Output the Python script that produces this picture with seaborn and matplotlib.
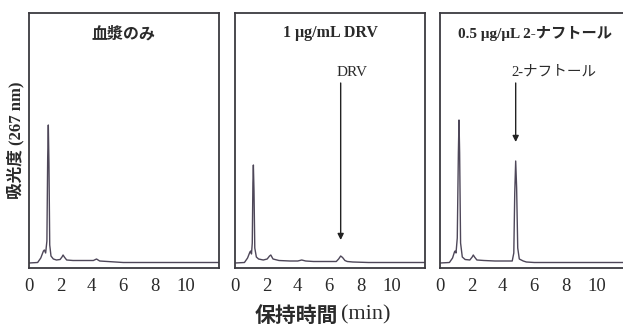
import matplotlib
matplotlib.use("Agg")
import matplotlib.pyplot as plt
import seaborn as sns
import pandas as pd

# ---- data ----
titles = ["血漿のみ", "1 μg/mL DRV", "0.5 μg/μL 2-ナフトール"]
x_ticks = [0, 2, 4, 6, 8, 10]
x_tick_labels = ["0", "2", "4", "6", "8", "10"]

p1_time = [0, 0.55, 0.75, 0.92, 0.98, 1.06, 1.14, 1.19, 1.23, 1.27, 1.32, 1.40, 1.55, 1.75,
           1.98, 2.10, 2.17, 2.25, 2.40, 2.80, 3.50, 4.10, 4.30, 4.50, 5.00, 5.50, 6.00, 12.1]
p1_signal = [0, 0.5, 5, 12, 13, 10, 22, 105, 138, 100, 18, 7, 4, 3,
             3.5, 6, 8, 6, 3, 2.5, 2.5, 2.5, 4, 2, 1.5, 1, 0.5, 0.5]

p2_time = [0, 0.60, 0.80, 0.95, 1.00, 1.05, 1.10, 1.14, 1.17, 1.21, 1.26, 1.36, 1.50, 1.80,
           2.05, 2.20, 2.28, 2.42, 2.80, 3.50, 4.00, 4.25, 4.50, 5.00, 6.00, 6.45, 6.60,
           6.73, 6.85, 7.00, 7.15, 7.50, 8.50, 12.1]
p2_signal = [0, 0.5, 5, 11, 12, 9, 20, 80, 98, 72, 15, 6, 4, 3,
             4, 7, 8, 4, 2.5, 2, 2, 3, 2, 1.5, 1.5, 1.5, 4,
             7, 5.5, 2.5, 1.5, 1, 0.5, 0.5]

p3_time = [0, 0.60, 0.80, 0.92, 0.96, 1.02, 1.10, 1.17, 1.21, 1.25, 1.31, 1.42, 1.60, 1.90,
           2.05, 2.12, 2.20, 2.35, 2.80, 3.50, 4.20, 4.60, 4.70, 4.76, 4.82, 4.88, 4.95,
           5.05, 5.30, 5.50, 6.00, 12.1]
p3_signal = [0, 0.5, 5, 11, 12, 10, 25, 110, 143, 110, 20, 6, 3.5, 3,
             6, 8, 6, 3, 2.5, 2, 2, 2, 10, 70, 102, 75, 15,
             4, 2, 1, 0.5, 0.5]

arrow_labels = [None, "DRV", "2-ナフトール"]
arrow_x = [None, 6.73, 4.82]
arrow_tip = [None, 23, 121]
arrow_top = [None, 180, 180]

# ---- style ----
sns.set_theme(style="white")
plt.rcParams["font.family"] = ["Liberation Serif", "Noto Sans CJK JP", "DejaVu Sans"]

line_color = "#4e4759"
spine_color = "#3c3a40"
text_color = "#2a2a2a"

fig = plt.figure(figsize=(6.23, 3.27), dpi=100)
lefts = [29 / 623, 235 / 623, 440 / 623]
bottom = 59 / 327
width = 190 / 623
height = 255 / 327

series = [(p1_time, p1_signal), (p2_time, p2_signal), (p3_time, p3_signal)]
title_fonts = [["Noto Sans CJK JP"], ["Liberation Serif", "Noto Sans CJK JP"],
               ["Liberation Serif", "Noto Sans CJK JP"]]
title_sizes = [11.5, 11.5, 11]

for i, (t, s) in enumerate(series):
    ax = fig.add_axes([lefts[i], bottom, width, height])
    df = pd.DataFrame({"time": t, "signal": s})
    sns.lineplot(data=df, x="time", y="signal", ax=ax, color=line_color,
                 linewidth=1.0, sort=False, estimator=None)
    ax.set_xlim(0, 12.1)
    ax.set_ylim(-5, 250)
    ax.set_xticks(x_ticks)
    ax.set_xticklabels(x_tick_labels, family=["Liberation Serif"], fontsize=13.5,
                       color=text_color)
    ax.set_yticks([])
    ax.set_xlabel("")
    ax.set_ylabel("")
    ax.tick_params(axis="x", length=0, pad=7.5)
    for sp in ax.spines.values():
        sp.set_color(spine_color)
        sp.set_linewidth(1.3)
    ax.text(0.5, 0.92, titles[i], transform=ax.transAxes, ha="center", va="center",
            fontsize=title_sizes[i], fontweight="bold", family=title_fonts[i],
            color=text_color)
    if arrow_labels[i]:
        ax.annotate("", xy=(arrow_x[i], arrow_tip[i]), xytext=(arrow_x[i], arrow_top[i]),
                    arrowprops=dict(arrowstyle="-|>", color="#222222", lw=1.0,
                                    mutation_scale=9, shrinkA=0, shrinkB=0))
        ax.text(arrow_x[i] - 0.25, arrow_top[i] + 4, arrow_labels[i], ha="left",
                va="bottom", fontsize=11 if i == 1 else 10.5,
                family=["Liberation Serif", "Noto Sans CJK JP"], color=text_color)

# axis labels
fig.text(338 / 623, 1 - 315 / 327, "保持時間", ha="right", va="center", fontsize=15,
         fontweight="bold", family=["Noto Sans CJK JP"], color=text_color)
fig.text(341 / 623, 1 - 315 / 327, "(min)", ha="left", va="center", fontsize=16,
         family=["Liberation Serif"], color=text_color)
fig.text(16 / 623, 1 - 140 / 327, "吸光度 (267 nm)", ha="center", va="center",
         rotation=90, fontsize=12, fontweight="bold",
         family=["Liberation Serif", "Noto Sans CJK JP"], color=text_color)

fig.savefig("out.png", dpi=100)
